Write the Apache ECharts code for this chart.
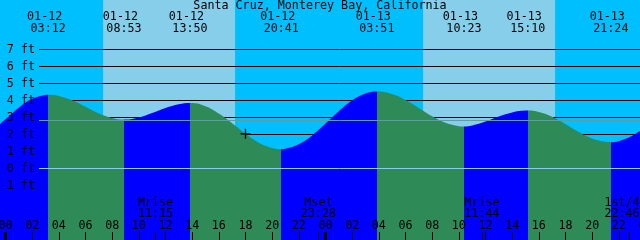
<!DOCTYPE html>
<html><head><meta charset="utf-8">
<script src="https://cdn.jsdelivr.net/npm/echarts@6/dist/echarts.min.js"></script>
<style>html,body{margin:0;padding:0;background:#00BFFF}#c{width:640px;height:240px}</style>
</head><body><div id="c"></div>
<script>
const chartTitle = 'Santa Cruz, Monterey Bay, California';
const baseDay = 12; // first day shown is 01-12

// Tide height (hours from 01-12 00:00, feet)
const hourlyHours = [-1,0,1,2,3,4,5,6,7,8,9,10,11,12,13,14,15,16,17,18,19,20,21,22,23,24,25,26,27,28,29,30,31,32,33,34,35,36,37,38,39,40,41,42,43,44,45,46,47,48];
const hourlyFeet  = [2.21,2.89,3.58,4.10,4.33,4.27,4.01,3.63,3.24,2.97,2.88,3.00,3.26,3.56,3.78,3.85,3.66,3.23,2.66,2.04,1.52,1.21,1.16,1.42,1.94,2.64,3.37,4.00,4.41,4.53,4.38,4.03,3.56,3.07,2.69,2.49,2.53,2.76,3.06,3.30,3.41,3.33,3.04,2.61,2.15,1.77,1.57,1.61,1.92,2.46];

// High / low tides
const extremeTimes = ['01-12 03:12','01-12 08:53','01-12 13:50','01-12 20:41','01-13 03:51','01-13 10:23','01-13 15:10','01-13 21:24'];
const extremeTypes = ['H','L','H','L','H','L','H','L'];
const extremeFeet  = [4.34,2.88,3.85,1.14,4.53,2.47,3.41,1.55];

// Moon events
const moonEvents = ['Mrise','Mset','Mrise','1st/4'];
const moonTimes  = ['01-12 11:15','01-12 23:28','01-13 11:44','01-13 22:46'];

// Daylight
const sunrises = ['01-12 07:19','01-13 07:19'];
const sunsets  = ['01-12 17:13','01-13 17:13'];
const dayStarts = ['01-12 00:00','01-13 00:00'];

const meanSeaLevelFt = 2.82;
const datumFt = 0;
const markTime = '01-12 18:00';
const markFeet = 2.04;

const FONT = 'DejaVu Sans Mono';
const FS = 11.7;

function toHours(s) {
  const [d, t] = s.split(' ');
  const dd = Number(d.split('-')[1]);
  const [hh, mm] = t.split(':').map(Number);
  return (dd - baseDay) * 24 + hh + mm / 60;
}
const extremeHours = extremeTimes.map(toHours);
const moonHours = moonTimes.map(toHours);
const dayStartHours = dayStarts.map(toHours);

// merge curve readings and extremes
const pts = hourlyHours.map((h, i) => [h, hourlyFeet[i]]);
extremeHours.forEach((h, i) => pts.push([h, extremeFeet[i]]));
pts.sort((a, b) => a[0] - b[0]);

// rising = blue, falling = green
const FLOOD = '#0000FF', EBB = '#2E8B57';
const pieces = [];
pieces.push({ lt: extremeHours[0], color: extremeTypes[0] === 'H' ? FLOOD : EBB });
for (let i = 0; i < extremeHours.length - 1; i++) {
  pieces.push({ gte: extremeHours[i], lt: extremeHours[i + 1], color: extremeTypes[i] === 'H' ? EBB : FLOOD });
}
const lastI = extremeHours.length - 1;
pieces.push({ gte: extremeHours[lastI], color: extremeTypes[lastI] === 'H' ? EBB : FLOOD });

function findIdx(arr, v) {
  let best = 0;
  for (let i = 1; i < arr.length; i++) if (Math.abs(arr[i] - v) < Math.abs(arr[best] - v)) best = i;
  return best;
}

const txt = { color: '#000', fontFamily: FONT, fontSize: FS };
const gridL = -21.167, gridR = -5.5;

const chart = echarts.init(document.getElementById('c'), null, { renderer: 'canvas' });
chart.setOption({
  animation: false,
  backgroundColor: '#00BFFF',
  title: {
    text: chartTitle, left: 'center', top: 0, padding: 0,
    textStyle: { color: '#000', fontFamily: FONT, fontSize: FS, fontWeight: 'normal', lineHeight: 12 }
  },
  grid: [
    { left: gridL, right: gridR, top: -1.5, bottom: -13.5, outerBoundsMode: 'none', containLabel: false },
    { left: gridL, right: gridR, top: 0, bottom: 0, outerBoundsMode: 'none', containLabel: false },
    { left: 39, right: 0, top: 49.5, bottom: 54.5, outerBoundsMode: 'none', containLabel: false }
  ],
  xAxis: [
    { gridIndex: 0, type: 'value', min: -2, max: 48, show: false },
    { gridIndex: 1, type: 'value', position: 'bottom', min: -2, max: 48, interval: 2, z: 6,
      axisLine: { show: false, onZero: false }, splitLine: { show: false },
      axisTick: { show: true, inside: true, length: 8, lineStyle: { color: '#000', width: 1 } },
      axisLabel: Object.assign({ inside: true, margin: 8, lineHeight: 12,
        formatter: v => String(((Math.round(v) % 24) + 24) % 24).padStart(2, '0') }, txt) },
    { gridIndex: 1, type: 'value', position: 'bottom', min: -2, max: 48, z: 6,
      axisLine: { show: false, onZero: false }, splitLine: { show: false },
      axisTick: { show: true, inside: true, length: 8, customValues: dayStartHours, lineStyle: { color: '#000', width: 3 } },
      axisLabel: { show: false } },
    { gridIndex: 1, type: 'value', position: 'bottom', min: -2, max: 48, z: 6,
      axisLine: { show: false, onZero: false }, splitLine: { show: false },
      axisTick: { show: true, inside: true, length: 8, customValues: moonHours, lineStyle: { color: '#000', width: 1 } },
      axisLabel: Object.assign({ inside: true, margin: 20.5, lineHeight: 11, customValues: moonHours,
        formatter: v => {
          const i = findIdx(moonHours, v);
          const pad = (5.5 + v * 13.333 + 18 > 640) ? '  ' : '';
          return moonEvents[i] + pad + '\n' + moonTimes[i].split(' ')[1] + pad;
        } }, txt) },
    { gridIndex: 1, type: 'value', position: 'top', min: -2, max: 48, z: 6,
      axisLine: { show: false, onZero: false }, splitLine: { show: false },
      axisTick: { show: false },
      axisLabel: Object.assign({ inside: true, margin: 11, lineHeight: 12, customValues: extremeHours,
        formatter: v => {
          const i = findIdx(extremeHours, v);
          const [d, t] = extremeTimes[i].split(' ');
          return d + ' \n' + t;
        } }, txt) },
    { gridIndex: 2, type: 'value', min: -2, max: 48, show: false }
  ],
  yAxis: [
    { gridIndex: 0, type: 'value', min: -5, max: 10, show: false },
    { gridIndex: 1, type: 'value', min: 0, max: 1, show: false },
    { gridIndex: 2, type: 'value', min: -1, max: 7, interval: 1, z: 1.5,
      axisLine: { show: false }, axisTick: { show: false }, axisLabel: { show: false },
      splitLine: { show: true, lineStyle: { color: '#000', width: 1 } } },
    { gridIndex: 2, type: 'value', min: -1, max: 7, interval: 1, position: 'left', z: 3,
      axisLine: { show: false }, axisTick: { show: false }, splitLine: { show: false },
      axisLabel: Object.assign({ margin: 4, showMinLabel: true, showMaxLabel: true,
        formatter: v => v + ' ft' }, txt) }
  ],
  visualMap: {
    show: false, type: 'piecewise', seriesIndex: 0, dimension: 0, pieces: pieces
  },
  series: [
    { type: 'line', xAxisIndex: 0, yAxisIndex: 0, data: pts, smooth: 0.4, showSymbol: false, silent: true,
      z: 2, lineStyle: { opacity: 0, width: 0 },
      areaStyle: { origin: 'start', opacity: 1 },
      markArea: { silent: true, itemStyle: { color: '#87CEEB', opacity: 1 },
        data: sunrises.map((s, i) => [{ xAxis: toHours(s) }, { xAxis: toHours(sunsets[i]) }]) } },
    { type: 'line', xAxisIndex: 5, yAxisIndex: 2, data: [[0, 0]], showSymbol: false, silent: true,
      lineStyle: { opacity: 0 },
      markLine: { silent: true, symbol: ['none', 'none'], label: { show: false }, animation: false,
        lineStyle: { type: 'solid', width: 1 },
        data: [ { yAxis: meanSeaLevelFt, lineStyle: { color: '#5F9EA0', type: 'solid', width: 1 } },
                { yAxis: datumFt, lineStyle: { color: '#87CEEB', type: 'solid', width: 1 } } ] } },
    { type: 'scatter', xAxisIndex: 0, yAxisIndex: 0, z: 7, silent: true,
      data: [[toHours(markTime), markFeet]],
      symbol: 'path://M5,0L5,10M0,5L10,5', symbolSize: 10,
      itemStyle: { color: 'rgba(0,0,0,0)', borderColor: '#000', borderWidth: 1.3, opacity: 1 } }
  ]
});
</script>
</body></html>
